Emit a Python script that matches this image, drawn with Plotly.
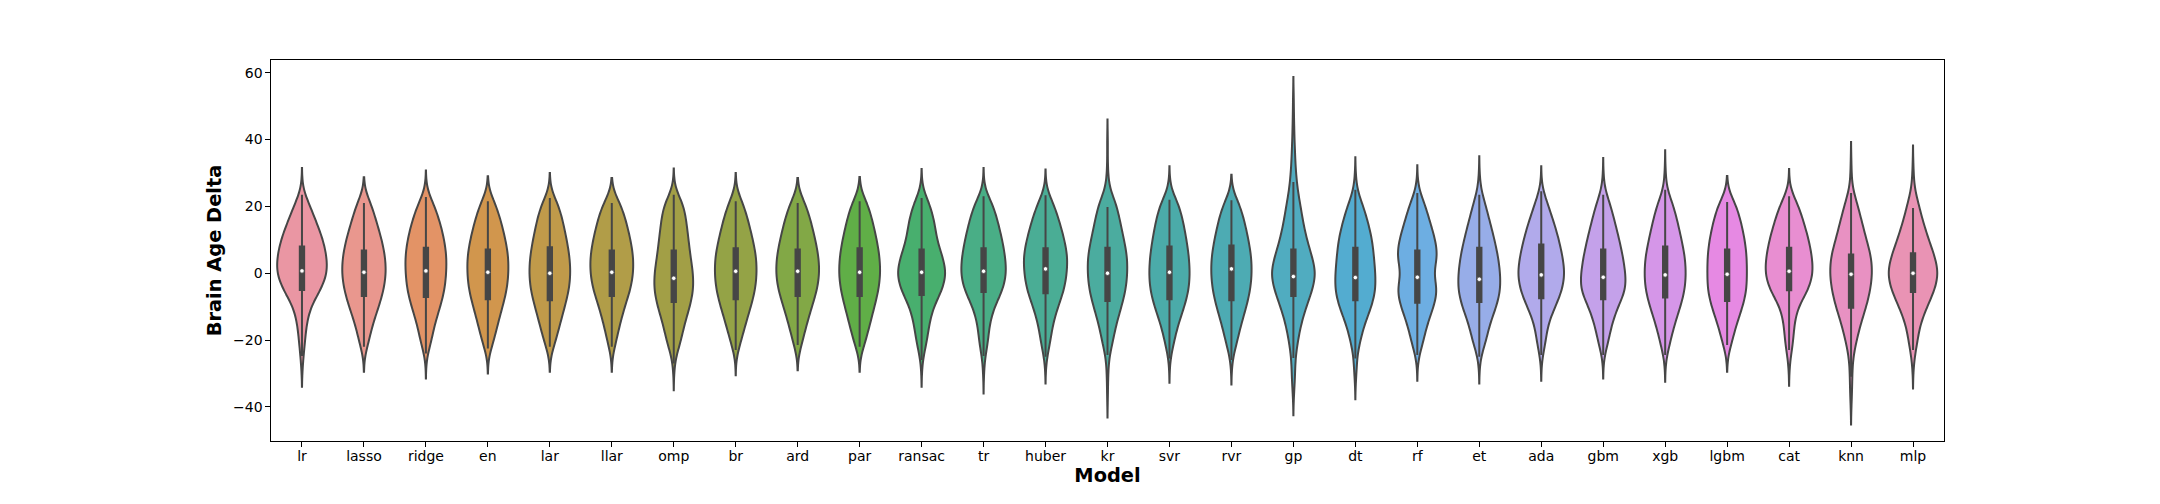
import colorsys
import math

import numpy as np
import plotly.graph_objects as go

MODELS = ["lr", "lasso", "ridge", "en", "lar", "llar", "omp", "br", "ard", "par",
          "ransac", "tr", "huber", "kr", "svr", "rvr", "gp", "dt", "rf", "et",
          "ada", "gbm", "xgb", "lgbm", "cat", "knn", "mlp"]

# brain age delta histogram, bin centres in years
BIN_CENTERS = [-35, -30, -25, -20, -15, -10, -5, 0, 5, 10, 15, 20, 25, 30, 35]
COUNTS = {
    "lr":     [0, 0, 0, 5, 8, 14, 32, 44, 42, 36, 25, 14, 0, 0, 0],
    "lasso":  [0, 0, 0, 10, 18, 30, 40, 45, 43, 36, 26, 16, 0, 0, 0],
    "ridge":  [0, 0, 0, 11, 18, 29, 38, 41, 42, 37, 29, 18, 0, 0, 0],
    "en":     [0, 0, 0, 12, 20, 29, 38, 41, 41, 35, 27, 17, 0, 0, 0],
    "lar":    [0, 0, 0, 12, 21, 30, 39, 42, 40, 34, 27, 19, 0, 0, 0],
    "llar":   [0, 0, 0, 9, 17, 26, 38, 44, 44, 38, 30, 20, 0, 0, 0],
    "omp":    [0, 0, 0, 14, 23, 34, 42, 41, 35, 31, 27, 21, 0, 0, 0],
    "br":     [0, 0, 0, 11, 20, 30, 39, 42, 41, 34, 26, 17, 0, 0, 0],
    "ard":    [0, 0, 0, 10, 19, 29, 40, 45, 43, 36, 28, 18, 0, 0, 0],
    "par":    [0, 0, 0, 13, 22, 31, 40, 44, 42, 36, 28, 19, 0, 0, 0],
    "ransac": [0, 0, 0, 9, 14, 21, 38, 46, 38, 27, 24, 16, 0, 0, 0],
    "tr":     [0, 0, 0, 8, 12, 21, 39, 46, 43, 37, 29, 20, 0, 0, 0],
    "huber":  [0, 0, 0, 9, 15, 25, 38, 43, 45, 38, 29, 18, 0, 0, 0],
    "kr":     [0, 0, 0, 10, 18, 28, 37, 40, 40, 33, 26, 18, 0, 0, 0],
    "svr":    [0, 0, 0, 9, 18, 30, 39, 41, 39, 34, 28, 20, 0, 0, 0],
    "rvr":    [0, 0, 0, 11, 20, 30, 38, 41, 40, 34, 27, 18, 0, 0, 0],
    "gp":     [0, 3, 4, 9, 15, 25, 37, 45, 36, 26, 19, 14, 8, 5, 3],
    "dt":     [0, 0, 2, 10, 18, 32, 40, 39, 36, 33, 25, 16, 2, 0, 0],
    "rf":     [0, 0, 0, 12, 20, 33, 42, 30, 42, 36, 26, 16, 0, 0, 0],
    "et":     [0, 0, 0, 13, 20, 33, 41, 40, 36, 29, 21, 12, 0, 0, 0],
    "ada":    [0, 0, 0, 8, 13, 27, 41, 46, 41, 34, 25, 13, 0, 0, 0],
    "gbm":    [0, 0, 0, 10, 17, 28, 45, 43, 38, 31, 23, 14, 0, 0, 0],
    "xgb":    [0, 0, 0, 10, 19, 30, 39, 41, 39, 32, 25, 16, 0, 0, 0],
    "lgbm":   [0, 0, 0, 10, 19, 31, 39, 39, 39, 35, 28, 19, 0, 0, 0],
    "cat":    [0, 0, 0, 7, 10, 16, 37, 46, 43, 37, 28, 18, 0, 0, 0],
    "knn":    [0, 2, 4, 11, 19, 30, 38, 42, 40, 30, 22, 13, 0, 0, 0],
    "mlp":    [0, 0, 0, 8, 14, 27, 42, 50, 42, 30, 20, 11, 0, 0, 0],
}
# single extreme observations outside the histogram
LOW_TAILS = {
    "lr": [-23, -25, -27], "lasso": [-22.5], "ridge": [-22, -24.5], "en": [-23],
    "lar": [-22.5], "llar": [-22.5], "omp": [-21, -22, -23, -24, -26, -28],
    "br": [-23.5], "ard": [-22], "par": [-22.5], "ransac": [-21, -23, -24.5, -27],
    "tr": [-21, -22.5, -24, -25.5, -29], "huber": [-21, -23, -24.5, -26],
    "kr": [-21, -22.5, -24, -26, -28, -31, -36.2], "svr": [-21.5, -23.5, -25.8],
    "rvr": [-21, -23, -24.5, -26.3], "gp": [-33, -35.5], "dt": [-27, -28.5, -30.7],
    "rf": [-22, -23.5, -25.2], "et": [-22, -24, -26], "ada": [-21.5, -23, -25.2],
    "gbm": [-22, -24.5], "xgb": [-22, -23.5, -25.5], "lgbm": [-22.5],
    "cat": [-21.5, -23, -24.5, -26.7], "knn": [-33, -35, -38.3],
    "mlp": [-22, -23.5, -25, -27.5],
}
HIGH_TAILS = {
    "lr": [24.5], "lasso": [21.7], "ridge": [23.7], "en": [22], "lar": [23],
    "llar": [21.5], "omp": [21, 22, 23, 24.3], "br": [23], "ard": [21.5],
    "par": [21.8], "ransac": [22, 24.2], "tr": [22, 24.5], "huber": [22, 24],
    "kr": [21, 22, 23, 24, 25.5, 27, 31, 39], "svr": [22, 23.5, 25], "rvr": [22.5],
    "gp": [38, 40, 43, 46, 51.7], "dt": [27.7], "rf": [22, 23.5, 25.3],
    "et": [22, 23.5, 25, 28], "ada": [21.5, 23, 25], "gbm": [21.5, 23, 24.5, 27.5],
    "xgb": [21.5, 23, 24.5, 26, 29.8], "lgbm": [22.1], "cat": [22, 24.2],
    "knn": [22, 23.5, 25, 27, 32.3], "mlp": [22, 23.5, 25, 27, 31.2],
}

# inner box statistics
Q1 = [-5.0, -6.8, -7.1, -7.8, -8.1, -6.8, -8.6, -7.8, -6.8, -6.8, -6.5, -5.6, -6.0, -8.3,
      -7.8, -8.1, -6.8, -8.1, -8.8, -8.6, -7.5, -7.8, -7.3, -8.3, -5.1, -10.3, -5.6]
MEDIAN = [0.7, 0.3, 0.7, 0.3, 0.0, 0.3, -1.5, 0.6, 0.6, 0.3, 0.3, 0.6, 1.3, 0.0,
          0.3, 1.3, -1.0, -1.3, -1.2, -1.8, -0.5, -1.2, -0.5, -0.3, 0.6, -0.3, 0.0]
Q3 = [8.0, 6.8, 7.6, 7.1, 7.8, 6.8, 6.8, 7.5, 7.1, 7.5, 7.1, 7.5, 7.5, 7.6,
      8.0, 8.3, 7.1, 7.6, 6.8, 7.6, 8.6, 7.1, 8.0, 7.1, 7.6, 5.6, 6.0]
WHISKER_LOW = [-24.8, -22.0, -24.0, -22.5, -22.0, -22.0, -27.0, -23.0, -21.5, -22.0, -26.0, -24.8, -25.0,
               -24.5, -25.5, -26.0, -25.4, -25.5, -24.5, -25.0, -24.5, -24.5, -24.5, -21.5, -23.0, -31.0, -23.0]
WHISKER_HIGH = [23.5, 21.0, 22.8, 21.5, 22.5, 21.0, 23.5, 21.5, 21.0, 21.5, 22.5, 23.0, 23.3,
                19.8, 22.0, 21.8, 27.3, 25.0, 24.0, 23.5, 24.5, 23.5, 25.0, 21.3, 23.0, 24.0, 19.5]

BANDWIDTH = 3.5

# seaborn-like husl palette --------------------------------------------------
_M = [[3.2406, -1.5372, -0.4986], [-0.9689, 1.8758, 0.0415], [0.0557, -0.2040, 1.0570]]
_REF_U, _REF_V = 0.19784, 0.46834


def _max_chroma(L, H):
    hrad = math.radians(H)
    sin_h, cos_h = math.sin(hrad), math.cos(hrad)
    sub1 = (L + 16) ** 3 / 1560896.0
    sub2 = sub1 if sub1 > 0.008856 else L / 903.3
    result = float("inf")
    for m1, m2, m3 in _M:
        top = (0.99915 * m1 + 1.05122 * m2 + 1.14460 * m3) * sub2
        rbottom = 0.86330 * m3 - 0.17266 * m2
        lbottom = 0.12949 * m3 - 0.38848 * m1
        bottom = (rbottom * sin_h + lbottom * cos_h) * sub2
        for t in (0.0, 1.0):
            c = L * (top - 1.05122 * t) / (bottom + 0.17266 * sin_h * t)
            if 0.0 < c < result:
                result = c
    return result


def _husl_to_rgb(h, s, l):
    c = _max_chroma(l, h) / 100.0 * s
    u, v = math.cos(math.radians(h)) * c, math.sin(math.radians(h)) * c
    t = (l + 16.0) / 116.0
    y = t ** 3 if t ** 3 > 0.008856 else (116.0 * t - 16.0) / 903.3
    var_u = u / (13.0 * l) + _REF_U
    var_v = v / (13.0 * l) + _REF_V
    x = -(9.0 * y * var_u) / ((var_u - 4.0) * var_v - var_u * var_v)
    z = (9.0 * y - 15.0 * var_v * y - var_v * x) / (3.0 * var_v)
    rgb = []
    for row in _M:
        lin = row[0] * x + row[1] * y + row[2] * z
        val = 12.92 * lin if lin <= 0.0031308 else 1.055 * lin ** (1 / 2.4) - 0.055
        rgb.append(min(max(val, 0.0), 1.0))
    return rgb


def husl_palette(n, h=0.01, s=0.9, l=0.7, saturation=0.75):
    hues = (np.linspace(0, 1, n + 1)[:-1] + h) % 1 * 359
    colors = []
    for hue in hues:
        r, g, b = _husl_to_rgb(hue, s * 99, l * 99)
        hh, ll, ss = colorsys.rgb_to_hls(r, g, b)
        colors.append(colorsys.hls_to_rgb(hh, ll, ss * saturation))
    return colors


rgb_colors = husl_palette(len(MODELS))
lum = min(colorsys.rgb_to_hls(*c)[1] for c in rgb_colors) * 0.6
gray = "rgb({0},{0},{0})".format(int(round(lum * 255)))
fill_colors = ["rgb({},{},{})".format(*[int(round(v * 255)) for v in c]) for c in rgb_colors]

# samples and area scaling ---------------------------------------------------
samples = {}
peaks = []
grid = np.linspace(-60, 70, 1301)
for name in MODELS:
    s = np.concatenate([np.repeat(BIN_CENTERS, COUNTS[name]), LOW_TAILS[name], HIGH_TAILS[name]]).astype(float)
    samples[name] = s
    dens = np.exp(-0.5 * ((grid[:, None] - s[None, :]) / BANDWIDTH) ** 2).sum(axis=1)
    peaks.append(dens.max() / (len(s) * BANDWIDTH * math.sqrt(2 * math.pi)))
widths = [0.8 * p / max(peaks) for p in peaks]

fig = go.Figure()
for i, name in enumerate(MODELS):
    fig.add_trace(go.Violin(
        x=[name] * len(samples[name]),
        y=samples[name],
        bandwidth=BANDWIDTH,
        spanmode="soft",
        scalemode="width",
        width=widths[i],
        fillcolor=fill_colors[i],
        line=dict(color=gray, width=2),
        opacity=1,
        points=False,
        box_visible=False,
        meanline_visible=False,
        hoverinfo="skip",
        showlegend=False,
    ))

fig.add_trace(go.Box(
    x=MODELS, q1=Q1, median=MEDIAN, q3=Q3,
    lowerfence=WHISKER_LOW, upperfence=WHISKER_HIGH,
    width=0.07, whiskerwidth=0,
    fillcolor=gray, line=dict(color=gray, width=2),
    boxpoints=False, hoverinfo="skip", showlegend=False,
))

fig.add_trace(go.Scatter(
    x=MODELS, y=MEDIAN, mode="markers",
    marker=dict(color="white", size=4.5, line=dict(color=gray, width=0.8)),
    hoverinfo="skip", showlegend=False,
))

# the page body keeps its default 8px margin, so the figure is 8px smaller
fig.update_layout(
    width=2152, height=496,
    margin=dict(l=263, r=216, t=52, b=63),
    plot_bgcolor="white", paper_bgcolor="white",
    font=dict(family="DejaVu Sans", size=14, color="black"),
    violinmode="overlay", boxmode="overlay",
    showlegend=False,
)
fig.update_xaxes(
    type="category", categoryorder="array", categoryarray=MODELS,
    range=[-0.5, len(MODELS) - 0.5],
    showline=True, linecolor="black", linewidth=1.1, mirror=True,
    ticks="outside", ticklen=4.5, tickwidth=1.1, tickcolor="black",
    ticklabelstandoff=-2,
    showgrid=False, zeroline=False,
    title=dict(text="<b>Model</b>", font=dict(size=19.4), standoff=4),
)
fig.update_yaxes(
    range=[-50.2, 63.8], tickvals=[-40, -20, 0, 20, 40, 60],
    showline=True, linecolor="black", linewidth=1.1, mirror=True,
    ticks="outside", ticklen=4.5, tickwidth=1.1, tickcolor="black",
    showgrid=False, zeroline=False,
    title=dict(text="<b>Brain Age Delta</b>", font=dict(size=19.4), standoff=6),
)

fig.write_html("out.html")
